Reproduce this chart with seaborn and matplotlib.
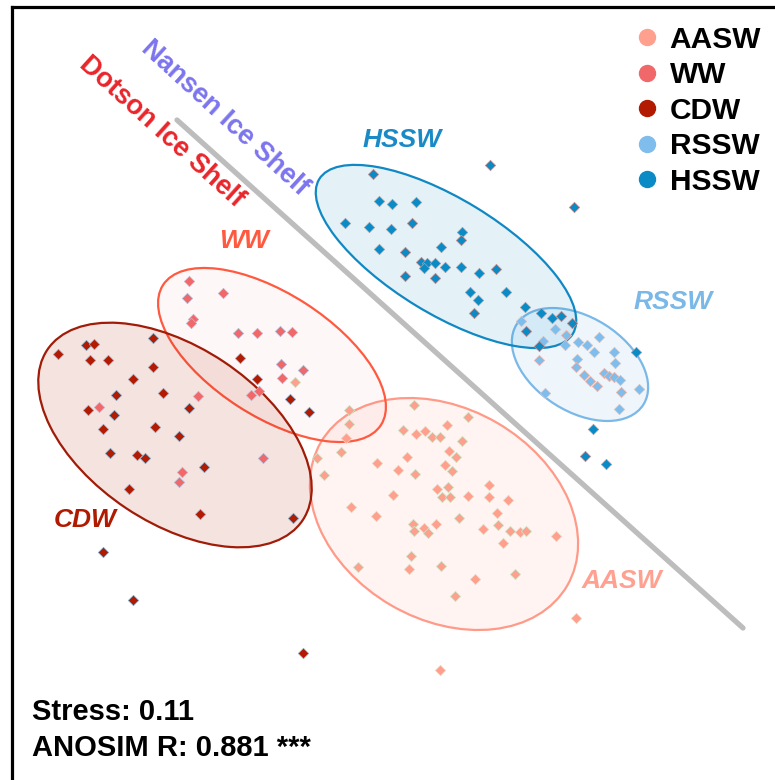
import matplotlib
matplotlib.use("Agg")
import matplotlib.pyplot as plt
from matplotlib.lines import Line2D
from matplotlib.patches import Ellipse
from matplotlib.colors import to_rgba
import seaborn as sns
import pandas as pd

# ---- water-mass groups and styling -------------------------------------
groups = ["AASW", "WW", "CDW", "RSSW", "HSSW"]
fill_colors = ["#ffa08e", "#f0686a", "#b21a02", "#7fbdec", "#0a8bc6"]
point_edges = ["#cfe6c8", "#b0bedc", "#7fb0cc", "#f4b8a8", "#c89090"]

# ---- NMDS ordination scores (plot units) --------------------------------
aasw_x = [295, 414, 349, 349, 468, 403, 416, 425, 432, 440, 447, 346, 462, 341,
          317, 449, 456, 407, 377, 445, 398, 415, 452, 324, 489, 437, 448, 393,
          442, 450, 468, 489, 508, 351, 376, 459, 497, 413, 414, 424, 428, 436,
          483, 498, 510, 520, 526, 556, 503, 411, 358, 441, 409, 515, 475, 455,
          576, 440]
aasw_y = [382, 405, 410, 424, 417, 430, 434, 431, 437, 437, 425, 438, 441, 452,
          458, 451, 457, 457, 463, 465, 470, 474, 471, 475, 485, 489, 487, 495,
          497, 497, 496, 497, 500, 507, 516, 518, 513, 524, 531, 528, 533, 524,
          529, 525, 531, 532, 531, 536, 543, 556, 567, 566, 569, 574, 579, 596,
          618, 670]

ww_x = [189, 223, 187, 193, 191, 238, 257, 280, 292, 281, 303, 282, 251, 259,
        198, 99, 263, 182, 179]
ww_y = [281, 293, 298, 319, 323, 333, 333, 331, 332, 364, 370, 378, 395, 391,
        396, 407, 458, 472, 482]

cdw_x = [58, 86, 94, 153, 90, 108, 153, 133, 116, 163, 88, 114, 189, 103, 155,
         179, 110, 137, 145, 204, 129, 200, 240, 257, 290, 309, 293, 103, 133,
         303]
cdw_y = [354, 345, 344, 338, 360, 360, 367, 379, 395, 393, 410, 415, 408, 429,
         427, 436, 453, 455, 458, 467, 489, 514, 358, 379, 399, 412, 518, 552,
         600, 653]

rssw_x = [521, 555, 566, 543, 565, 578, 587, 599, 594, 614, 539, 577, 576, 615,
          584, 590, 597, 604, 609, 614, 620, 621, 639, 545, 619]
rssw_y = [321, 329, 335, 341, 345, 342, 345, 337, 352, 352, 360, 359, 367, 363,
          375, 381, 386, 373, 376, 377, 380, 392, 389, 393, 409]

hssw_x = [373, 490, 574, 379, 392, 416, 345, 369, 391, 412, 462, 461, 379, 405,
          441, 421, 427, 424, 435, 445, 461, 479, 496, 405, 435, 470, 478, 506,
          474, 525, 541, 552, 561, 572, 526, 539, 636, 593, 585, 606]
hssw_y = [174, 165, 207, 201, 204, 202, 223, 227, 229, 223, 232, 240, 249, 252,
          247, 262, 263, 268, 263, 267, 267, 273, 269, 276, 278, 292, 300, 292,
          313, 307, 313, 318, 316, 323, 331, 346, 352, 429, 456, 464]

# ---- group ellipses: centre, full width/height, tilt (deg) ---------------
ell_cx = [444, 272, 175, 580, 446]
ell_cy = [514, 355, 435, 364.5, 256.5]
ell_w = [285, 259, 307, 150, 297]
ell_h = [211, 123, 176, 94, 115]
ell_angle = [30.2, 32.7, 33.7, 32.4, 31.4]
ell_edges = ["#ff9a88", "#ff5a40", "#a01c08", "#7ab8e8", "#1088c4"]
ell_alpha = [0.11, 0.05, 0.12, 0.13, 0.11]

# group label positions
lab_x = [622, 244, 85, 673, 402]
lab_y = [581, 241, 520, 302, 140]
lab_colors = ["#ffa090", "#ff5a40", "#b01a00", "#7ab8e8", "#1a8ac6"]

# ice-shelf separation line
divide_x = [177, 743]
divide_y = [120, 628]

series = {
    "AASW": (aasw_x, aasw_y),
    "WW": (ww_x, ww_y),
    "CDW": (cdw_x, cdw_y),
    "RSSW": (rssw_x, rssw_y),
    "HSSW": (hssw_x, hssw_y),
}
df = pd.concat(
    [pd.DataFrame({"NMDS1": xs, "NMDS2": ys, "group": g}) for g, (xs, ys) in series.items()],
    ignore_index=True,
)

sns.set_theme(style="white")
plt.rcParams["font.family"] = ["Liberation Sans", "DejaVu Sans"]
plt.rcParams["text.color"] = "black"

fig = plt.figure(figsize=(7.75, 7.8), dpi=100)
ax = fig.add_axes([0, 0, 1, 1])
ax.set_xlim(0, 775)
ax.set_ylim(780, 0)
ax.set_xticks([])
ax.set_yticks([])

# frame: only left and top edges
for side in ("right", "bottom"):
    ax.spines[side].set_visible(False)
ax.spines["left"].set_position(("data", 12))
ax.spines["top"].set_position(("data", 7))
ax.spines["left"].set_bounds(7, 780)
ax.spines["top"].set_bounds(12, 775)
for side in ("left", "top"):
    ax.spines[side].set_color("black")
    ax.spines[side].set_linewidth(2.3)

# separation line between the two ice shelves
sns.lineplot(x=divide_x, y=divide_y, ax=ax, color="#bdbdbd", linewidth=3.8,
             sort=False, zorder=1)

# ellipses
for i, g in enumerate(groups):
    e = Ellipse((ell_cx[i], ell_cy[i]), ell_w[i], ell_h[i], angle=ell_angle[i],
                facecolor=to_rgba(fill_colors[i], ell_alpha[i]),
                edgecolor=ell_edges[i], linewidth=1.6, zorder=2)
    ax.add_patch(e)

# sample points
for g, c, ec in zip(groups, fill_colors, point_edges):
    sns.scatterplot(data=df[df["group"] == g], x="NMDS1", y="NMDS2", ax=ax,
                    color=c, marker="D", s=28, edgecolor=ec, linewidth=0.5,
                    legend=False, zorder=3)
ax.set_xlabel("")
ax.set_ylabel("")

# group labels
for i, g in enumerate(groups):
    ax.text(lab_x[i], lab_y[i], g, color=lab_colors[i], fontsize=19,
            fontweight="bold", fontstyle="italic", ha="center", va="center",
            zorder=4)

# ice-shelf annotations
ax.text(225, 118, "Nansen Ice Shelf", color="#7b74ee", fontsize=19.5,
        fontweight="bold", rotation=-42.5, rotation_mode="anchor",
        ha="center", va="center")
ax.text(162, 132, "Dotson Ice Shelf", color="#e8252a", fontsize=19.5,
        fontweight="bold", rotation=-42, rotation_mode="anchor",
        ha="center", va="center")

# statistics
ax.text(32, 720, "Stress: 0.11", fontsize=21, fontweight="bold",
        color="black", va="baseline")
ax.text(32, 756, "ANOSIM R: 0.881 ***", fontsize=21, fontweight="bold",
        color="black", va="baseline")

# legend
handles = [Line2D([], [], marker="o", linestyle="", markersize=11.5,
                  markerfacecolor=c, markeredgecolor=c) for c in fill_colors]
leg = ax.legend(handles, groups, loc="upper right",
                bbox_to_anchor=(1.0 - 2 / 775, 1.0 - 14 / 780),
                frameon=False, prop={"weight": "bold", "size": 21.5},
                handletextpad=0.15, labelspacing=0.25, borderaxespad=0.0,
                handlelength=1.2)
for t in leg.get_texts():
    t.set_color("black")

fig.savefig("out.png", dpi=100)
